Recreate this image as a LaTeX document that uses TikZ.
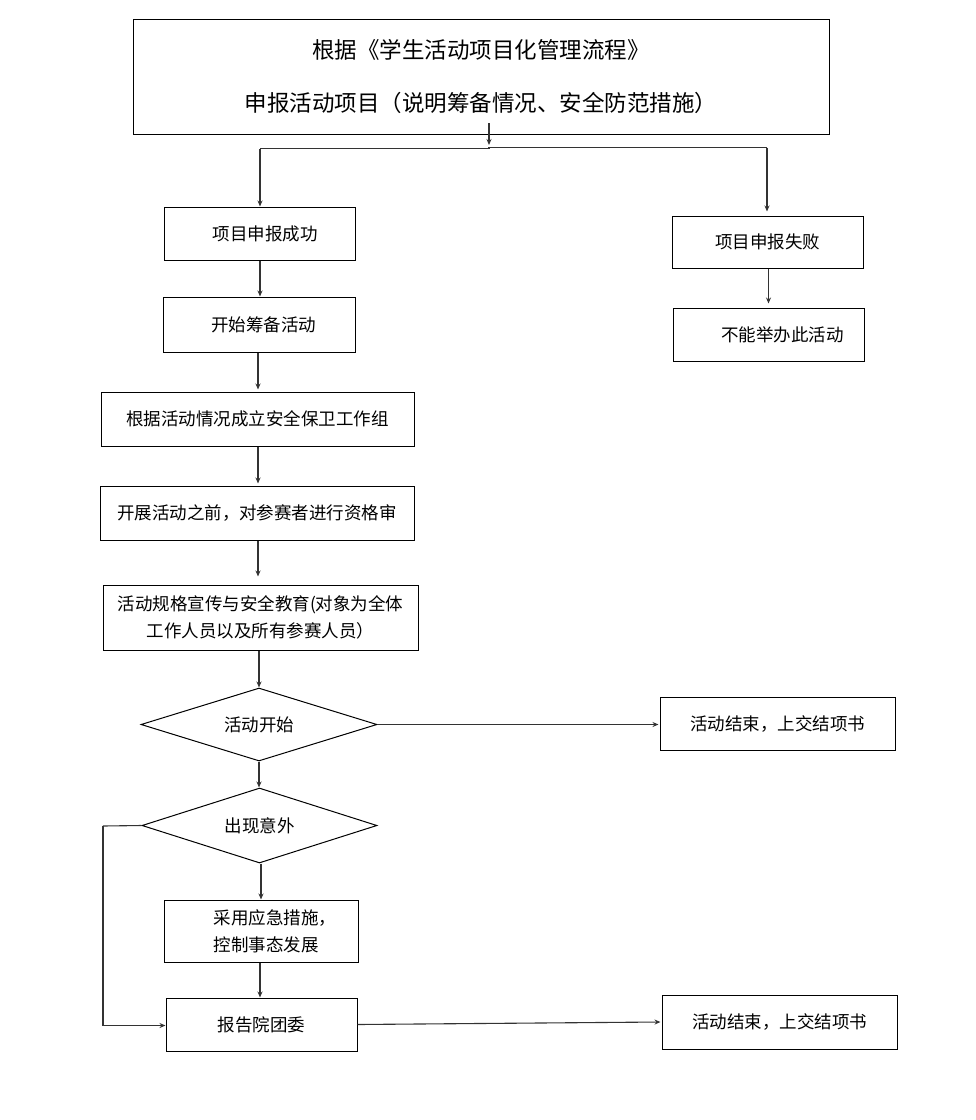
\documentclass[tikz,border=0pt]{standalone}
\usepackage{fontspec}
\setmainfont{Noto Sans CJK SC}
\usetikzlibrary{arrows.meta,shapes.geometric}
\begin{document}
\begin{tikzpicture}[x=1pt,y=-1pt,
  box/.style={draw=black, line width=1pt, rectangle, inner sep=0pt, align=center,
    font=\fontsize{17.5}{27}\selectfont},
  dia/.style={draw=black, line width=1pt, diamond, aspect=3.2, inner sep=0pt,
    font=\fontsize{17.5}{22}\selectfont},
  conn/.style={draw=black!80, line width=1.1pt},
  arr/.style={conn, -{Stealth[length=6pt,width=5pt]}}]
\useasboundingbox (0,0) rectangle (976,1120);

\node[box, minimum width=696pt, minimum height=115pt, font=\fontsize{22.5}{53}\selectfont]
  (top) at (481,76.5) {根据《学生活动项目化管理流程》\\申报活动项目（说明筹备情况、安全防范措施）};

\node[box, minimum width=191pt, minimum height=53pt] (ok) at (259.5,233.5) {\hspace*{11pt}项目申报成功};
\node[box, minimum width=191pt, minimum height=52pt] (fail) at (767.5,242) {项目申报失败};
\node[box, minimum width=192pt, minimum height=55pt] (prep) at (259,324.5) {\hspace*{9pt}开始筹备活动};
\node[box, minimum width=191pt, minimum height=53pt] (cannot) at (768.5,334.5) {\hspace*{28pt}不能举办此活动};
\node[box, minimum width=313pt, minimum height=54pt] (team) at (257.5,419) {根据活动情况成立安全保卫工作组};
\node[box, minimum width=314pt, minimum height=54pt] (check) at (257,513) {开展活动之前，对参赛者进行资格审};
\node[box, minimum width=315pt, minimum height=65pt] (edu) at (260.5,617.5)
  {活动规格宣传与安全教育(对象为全体\\工作人员以及所有参赛人员）};
\node[dia, minimum width=236pt, minimum height=73pt] (start) at (259,724.5) {活动开始};
\node[box, minimum width=235pt, minimum height=53pt] (end1) at (777.5,723.5) {活动结束，上交结项书};
\node[dia, minimum width=235pt, minimum height=75pt] (acc) at (259.5,825.5) {出现意外};
\node[box, minimum width=194pt, minimum height=62pt, align=left] (emer) at (261,931)
  {\hspace*{28pt}采用应急措施，\\\hspace*{28pt}控制事态发展};
\node[box, minimum width=191pt, minimum height=53pt] (rep) at (261.5,1024.5) {报告院团委};
\node[box, minimum width=235pt, minimum height=54pt] (end2) at (779.5,1022) {活动结束，上交结项书};

% split from top box
\coordinate (t0) at (489,123);
\coordinate (t1) at (489,145);
\coordinate (hl) at (260,148.5);
\coordinate (hr) at (767,147.5);
\draw[arr] (t0) -- (t1);
\draw[conn] (hl) -- (489,148.5) -- (489,147.5) -- (hr);
\draw[arr] (hl) -- (hl |- ok.north);
\draw[arr] (hr) -- ([yshift=4pt]hr |- fail.north);

\draw[arr] (ok.south -| hl) -- (prep.north -| hl);
\draw[arr] ([xshift=1pt]fail.south) -- ([xshift=1pt,yshift=4pt]fail.south |- cannot.north);
\draw[arr] ([xshift=-1pt]prep.south) -- ([yshift=2pt]team.north -| 258,0);
\draw[arr] (team.south -| 258,0) -- ([yshift=2pt]check.north -| 258,0);
\draw[arr] (check.south -| 258,0) -- ([yshift=8pt]edu.north -| 258,0);
\draw[arr] (edu.south -| start.north) -- (start.north);
\draw[arr] (start.east) -- ([xshift=-1pt]end1.west |- start.east);
\draw[arr] (start.south) -- (acc.north -| start.south);
\draw[arr] (acc.south -| emer.north) -- (emer.north);
\coordinate (lc) at (103,826);
\coordinate (lb) at (103,1025.5);
\draw[conn] (acc.west) -- (lc);
\draw[arr] (lc) -- (lb) -- (lb -| rep.west);
\draw[arr] (emer.south -| 260,0) -- (rep.north -| 260,0);
\draw[arr] (rep.east) -- ([xshift=-1pt]end2.west);
\end{tikzpicture}
\end{document}
